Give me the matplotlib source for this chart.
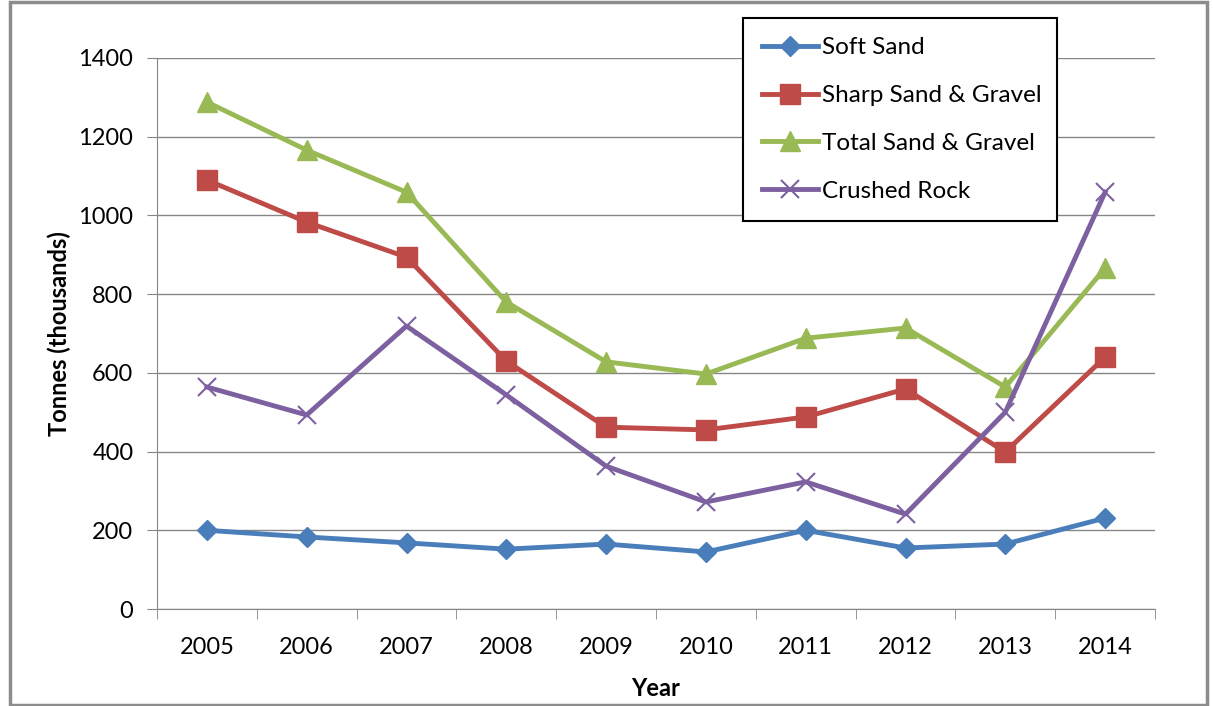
import numpy as np
import matplotlib.pyplot as plt
from matplotlib.patches import Rectangle

plt.rcParams['font.family'] = ['Lato', 'DejaVu Sans']

# data (thousand tonnes)
years = ["2005", "2006", "2007", "2008", "2009", "2010", "2011", "2012", "2013", "2014"]
soft_sand = [200, 183, 168, 152, 165, 145, 200, 155, 165, 231]
sharp_sand_gravel = [1090, 983, 894, 630, 462, 455, 488, 559, 399, 640]
total_sand_gravel = [1288, 1166, 1059, 780, 628, 597, 688, 714, 564, 866]
crushed_rock = [564, 493, 719, 544, 363, 272, 323, 241, 500, 1059]

FS = 17

fig = plt.figure(figsize=(12.13, 7.06), dpi=100)
ax = fig.add_axes([157 / 1213, 1 - 609 / 706, (1155 - 157) / 1213, (609 - 58) / 706])

# outer chart frame
fig.patches.append(Rectangle((10 / 1213, 0.002), 1197 / 1213, 0.995, transform=fig.transFigure,
                             fill=False, edgecolor="#8c8c8c", linewidth=2.5))

x = np.arange(len(years))
ax.plot(x, soft_sand, color="#4a7ebb", lw=3.5, marker="D", ms=10, label="Soft Sand")
ax.plot(x, sharp_sand_gravel, color="#be4b48", lw=3.5, marker="s", ms=14, label="Sharp Sand & Gravel")
ax.plot(x, total_sand_gravel, color="#98b954", lw=3.5, marker="^", ms=14, label="Total Sand & Gravel")
ax.plot(x, crushed_rock, color="#7d60a0", lw=3.5, marker="x", ms=13, mew=1.5, label="Crushed Rock")

ax.set_xlim(-0.5, len(years) - 0.5)
ax.set_ylim(0, 1400)
ax.set_yticks(range(0, 1401, 200))
ax.set_xticks(x)
ax.set_xticklabels(years)
ax.set_xticks(np.arange(-0.5, len(years)), minor=True)
ax.tick_params(axis="x", which="major", length=0, pad=20, labelsize=FS)
ax.tick_params(axis="x", which="minor", length=7, color="#868686")
ax.tick_params(axis="y", length=7, color="#868686", direction="out", pad=10, labelsize=FS)
ax.grid(axis="y", color="#868686", lw=1)
ax.set_axisbelow(True)
for s in ["top", "right"]:
    ax.spines[s].set_visible(False)
for s in ["left", "bottom"]:
    ax.spines[s].set_color("#868686")

ax.set_xlabel("Year", fontsize=FS, fontweight="bold", labelpad=14)
ax.set_ylabel("Tonnes (thousands)", fontsize=FS, fontweight="bold", labelpad=5)

# legend box spans roughly x 743-1057, y 18-215 px in the figure
leg_box = ((743 - 157) / 998, (609 - 215) / 551, (1057 - 743) / 998, (215 - 18) / 551)
leg = ax.legend(loc="upper left", bbox_to_anchor=leg_box, mode="expand", fontsize=17.5,
                frameon=True, fancybox=False, edgecolor="black", framealpha=1,
                handlelength=2.3, handletextpad=0.15, labelspacing=1.1, borderpad=0.8,
                borderaxespad=0)
leg.get_frame().set_linewidth(1.5)

fig.savefig("out.png", dpi=100)
